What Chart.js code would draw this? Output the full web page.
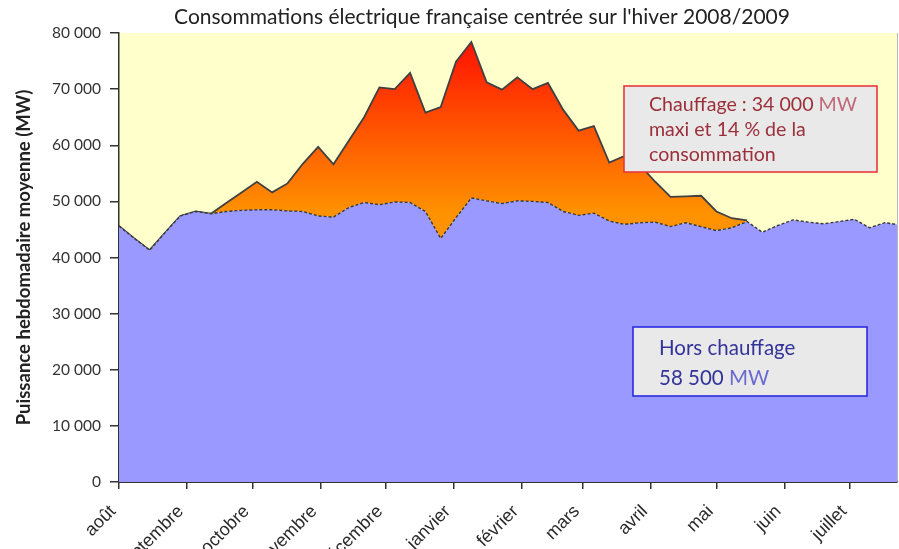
<!DOCTYPE html>
<html><head><meta charset="utf-8">
<script src="https://cdn.jsdelivr.net/npm/chart.js@4.4.1/dist/chart.umd.min.js"></script>
<style>html,body{margin:0;padding:0;background:#fff;overflow:hidden}#wrap{width:899px;height:549px;position:relative}</style>
</head><body><div id="wrap"><canvas id="c" width="899" height="549"></canvas></div>
<script>
// Month labels and their start day (days since 1 August 2008)
const MONTHS = ['août','septembre','octobre','novembre','décembre','janvier','février','mars','avril','mai','juin','juillet'];
const MONTH_START_DAY = [0,31,61,92,122,153,184,212,243,273,304,334];
// Weekly samples (start day of each week since 1 August 2008)
const WEEK_START_DAY = [0,7,14,21,28,35,42,49,56,63,70,77,84,91,98,105,112,119,126,133,140,147,154,161,168,175,182,189,196,203,210,217,224,231,238,245,252,259,266,273,280,287,294,301,308,315,322,329,336,343,350,357];
// Consumption without heating (MW)
const HORS_CHAUFFAGE = [45600,43400,41300,44400,47400,48200,47800,48200,48400,48500,
  48500,48300,48200,47400,47200,48900,49800,49400,49900,49800,
  48200,43400,47100,50600,50100,49600,50100,50000,49800,48200,
  47500,47900,46500,45900,46200,46300,45500,46200,45500,44800,
  45300,46400,44500,45700,46700,46300,46000,46400,46800,45300,
  46200,45800];
// Total consumption including heating (MW)
const CONSOMMATION_TOTALE = [45600,43400,41300,44400,47400,48200,47800,49700,51600,53500,
  51600,53200,56700,59700,56600,60800,65000,70300,70000,72900,
  65800,66800,74900,78400,71200,69900,72100,70000,71100,66300,
  62600,63400,56900,58100,56500,53500,50800,50900,51000,48200,
  47000,46600,null,null,null,null,null,null,null,null,
  null,null];
const Y_TICKS = [0,10000,20000,30000,40000,50000,60000,70000,80000];
const TITLE = "Consommations électrique française centrée sur l'hiver 2008/2009";
const Y_TITLE = 'Puissance hebdomadaire moyenne (MW)';
const NOTE_HEAT = [[['Chauffage : 34 000 ','d'],['MW','l']],[['maxi et 14 % de la','d']],[['consommation','d']]];
const NOTE_BASE = [[['Hors chauffage','d']],[['58 500 ','d'],['MW','l']]];

const FONT = 'Lato, "Open Sans", sans-serif';
Chart.defaults.font.family = FONT;

const bgPlugin = {
  id: 'bg',
  beforeDraw(chart) {
    const {ctx, chartArea: a} = chart;
    ctx.save();
    ctx.fillStyle = '#ffffcc';
    ctx.fillRect(a.left, a.top, a.right - a.left, a.bottom - a.top);
    ctx.strokeStyle = '#b8b8b8';
    ctx.lineWidth = 1;
    ctx.beginPath(); ctx.moveTo(a.right + 0.5, a.top); ctx.lineTo(a.right + 0.5, a.bottom); ctx.stroke();
    ctx.restore();
  }
};

function drawNote(ctx, box, lines, border, dark, light, x0, y0, dy, size) {
  ctx.save();
  ctx.fillStyle = '#e9e9e9';
  ctx.fillRect(box[0], box[1], box[2], box[3]);
  ctx.strokeStyle = border; ctx.lineWidth = 1.6;
  ctx.strokeRect(box[0], box[1], box[2], box[3]);
  ctx.font = size + 'px ' + FONT;
  ctx.textBaseline = 'middle'; ctx.textAlign = 'left';
  lines.forEach((segs, i) => {
    let x = x0;
    segs.forEach(([t, k]) => {
      ctx.fillStyle = k === 'd' ? dark : light;
      ctx.fillText(t, x, y0 + i * dy);
      x += ctx.measureText(t).width;
    });
  });
  ctx.restore();
}

const notesPlugin = {
  id: 'notes',
  afterDraw(chart) {
    const ctx = chart.ctx;
    ctx.save();
    ctx.font = '21px ' + FONT;
    ctx.fillStyle = '#222';
    ctx.textAlign = 'center'; ctx.textBaseline = 'middle';
    ctx.fillText(TITLE, 482, 17);
    ctx.restore();
    drawNote(ctx, [624, 86, 253, 86], NOTE_HEAT, '#e8383c', '#9b2f3a', '#c06878', 649, 105, 25, 19.6);
    drawNote(ctx, [633, 327, 234, 69], NOTE_BASE, '#2b2be0', '#33339a', '#6a6ad0', 659, 348, 30, 20.5);
  }
};

const pts = arr => WEEK_START_DAY.map((d, i) => ({x: d, y: arr[i]}));

new Chart(document.getElementById('c'), {
  type: 'line',
  data: {
    datasets: [
      {
        label: 'Hors chauffage', data: pts(HORS_CHAUFFAGE), fill: 'origin',
        backgroundColor: '#9999ff', borderColor: '#3a3a3a', borderWidth: 1.4, borderDash: [3, 2],
        pointRadius: 0, tension: 0
      },
      {
        label: 'Chauffage', data: pts(CONSOMMATION_TOTALE), fill: '-1',
        backgroundColor: (c) => {
          const ch = c.chart;
          if (!ch.chartArea) return '#ff9200';
          const y = ch.scales.y;
          const g = ch.ctx.createLinearGradient(0, y.getPixelForValue(78000), 0, y.getPixelForValue(48000));
          g.addColorStop(0, '#ff1400');
          g.addColorStop(1, '#ff9200');
          return g;
        },
        borderColor: '#404040', borderWidth: 1.8, pointRadius: 0, tension: 0
      }
    ]
  },
  options: {
    responsive: false, animation: false, devicePixelRatio: 1,
    layout: {padding: {top: 33, right: 2, left: 0, bottom: 0}},
    plugins: {legend: {display: false}, tooltip: {enabled: false}, title: {display: false}},
    scales: {
      x: {
        type: 'linear', min: 0, max: 355.5,
        afterBuildTicks: s => { s.ticks = MONTH_START_DAY.map(v => ({value: v})); },
        ticks: {
          autoSkip: false, maxRotation: 45, minRotation: 45, padding: 12, labelOffset: -6,
          callback: v => MONTHS[MONTH_START_DAY.indexOf(v)],
          color: '#2a2a2a', font: {family: '"Liberation Sans", Arial, sans-serif', size: 18}
        },
        grid: {drawOnChartArea: false, drawTicks: true, tickLength: 7, color: '#333', lineWidth: 1.5},
        border: {color: '#333', width: 2},
        afterFit: s => { s.height = 67; }
      },
      y: {
        min: 0, max: 80000,
        afterBuildTicks: s => { s.ticks = Y_TICKS.map(v => ({value: v})); },
        ticks: {
          padding: 9, color: '#333', font: {size: 15.5},
          callback: v => v === 0 ? '0' : (v / 1000) + ' 000'
        },
        grid: {drawOnChartArea: false, tickLength: 9, color: '#333', lineWidth: 1.5},
        border: {color: '#333', width: 1.5},
        title: {display: true, text: Y_TITLE, color: '#222', font: {size: 18.5, weight: 'bold'}, padding: {top: 13, bottom: 0}},
        afterFit: s => { s.width = 119; }
      }
    }
  },
  plugins: [bgPlugin, notesPlugin]
});
</script>
</body></html>
